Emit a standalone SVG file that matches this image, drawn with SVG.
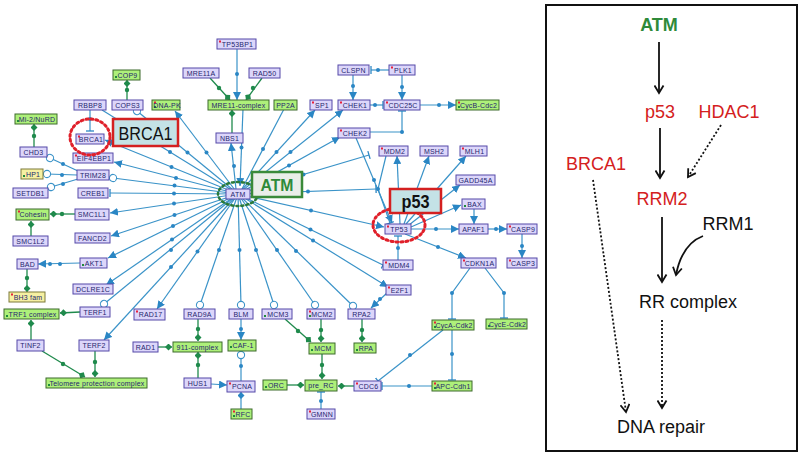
<svg xmlns="http://www.w3.org/2000/svg" width="800" height="456" viewBox="0 0 800 456">
<style>
.e{stroke:#3a93c8;stroke-width:1.2;fill:none}
.eg{stroke:#1f8a4c;stroke-width:1.3;fill:none}
.d{fill:#2a86c4}
.dg{fill:#1f8a4c}
.n rect.b{fill:#dcd6fa;stroke:#5548a8;stroke-width:1}
.g rect.b{fill:#aef07a;stroke:#3d6a2c;stroke-width:1}
.y rect.b{fill:#f6f0a2;stroke:#7d7a3a;stroke-width:1}
.n text,.g text,.y text{font-family:"Liberation Sans",Arial,sans-serif;font-size:7px;fill:#26266e;text-anchor:middle;letter-spacing:0.2px}
.rm{fill:#e8203a}
.gm{fill:#1f8a3c}
.big{font-family:"Liberation Sans",Arial,sans-serif;text-anchor:middle}
.rp{font-family:"Liberation Sans",Arial,sans-serif;font-size:18px;text-anchor:middle}
.ka{stroke:#111;stroke-width:1.8;fill:none;marker-end:url(#chev)}
.kd{stroke:#111;stroke-width:1.8;fill:none;stroke-dasharray:2 2;marker-end:url(#chev)}
</style>
<defs>
<marker id="arr" markerUnits="userSpaceOnUse" markerWidth="8" markerHeight="8" viewBox="0 0 10 10" refX="10" refY="5" orient="auto"><path d="M0,0 L10,5 L0,10 z" fill="#2a86c4"/></marker>
<marker id="tb" markerUnits="userSpaceOnUse" markerWidth="3" markerHeight="8" viewBox="0 0 3 10" refX="1.5" refY="5" orient="auto"><path d="M1.5,0 L1.5,10" stroke="#2a86c4" stroke-width="1.6"/></marker>
<marker id="oc" markerUnits="userSpaceOnUse" markerWidth="10" markerHeight="10" viewBox="0 0 10 10" refX="5" refY="5" orient="auto"><circle cx="5" cy="5" r="3.6" fill="#fff" stroke="#3a93c8" stroke-width="1.1"/></marker>
<marker id="dm" markerUnits="userSpaceOnUse" markerWidth="8" markerHeight="7" viewBox="0 0 10 10" refX="10" refY="5" orient="auto"><path d="M0,5 L5,0 L10,5 L5,10 z" fill="#1f8a4c"/></marker>
<marker id="bd" markerUnits="userSpaceOnUse" markerWidth="8" markerHeight="7" viewBox="0 0 10 10" refX="10" refY="5" orient="auto"><path d="M0,5 L5,0 L10,5 L5,10 z" fill="#2a86c4"/></marker>
<marker id="chev" markerUnits="userSpaceOnUse" markerWidth="11" markerHeight="11" viewBox="0 0 11 11" refX="9" refY="5.5" orient="auto"><path d="M1.5,1 L9,5.5 L1.5,10" fill="none" stroke="#111" stroke-width="1.8"/></marker>
</defs>
<rect width="800" height="456" fill="#fff"/>

<g id="connectors">
<path class="e" d="M238,194 L102,110"/>
<path class="e" d="M238,194 L137,111" marker-end="url(#oc)"/>
<path class="e" d="M238,194 L105,140" marker-end="url(#arr)"/>
<path class="e" d="M238,194 L175,111" marker-end="url(#arr)"/>
<path class="e" d="M236,189 L231,143" marker-end="url(#arr)"/>
<path class="e" d="M243,109 L240,186" marker-end="url(#arr)"/>
<path class="e" d="M284,109 L242,189"/>
<path class="e" d="M238,194 L315,110" marker-end="url(#arr)"/>
<path class="e" d="M238,194 L343,110" marker-end="url(#arr)"/>
<path class="e" d="M238,194 L340,137" marker-end="url(#arr)"/>
<path class="e" d="M238,194 L369,155" marker-end="url(#tb)"/>
<path class="e" d="M238,194 L376,189" marker-end="url(#tb)"/>
<path class="e" d="M238,194 L384,227" marker-end="url(#arr)"/>
<path class="e" d="M238,194 L383,265" marker-end="url(#tb)"/>
<path class="e" d="M238,194 L388,287" marker-end="url(#arr)"/>
<path class="e" d="M238,194 L353,306" marker-end="url(#oc)"/>
<path class="e" d="M238,194 L315,305" marker-end="url(#oc)"/>
<path class="e" d="M238,194 L274,305" marker-end="url(#oc)"/>
<path class="e" d="M238,194 L241,305" marker-end="url(#oc)"/>
<path class="e" d="M238,194 L200,305" marker-end="url(#oc)"/>
<path class="e" d="M238,194 L157,309" marker-end="url(#arr)"/>
<path class="e" d="M238,194 L104,340" marker-end="url(#arr)"/>
<path class="e" d="M238,194 L104,304" marker-end="url(#oc)"/>
<path class="e" d="M238,194 L106,285" marker-end="url(#arr)"/>
<path class="e" d="M238,194 L108,258" marker-end="url(#arr)"/>
<path class="e" d="M238,194 L111,236" marker-end="url(#arr)"/>
<path class="e" d="M238,194 L110,213" marker-end="url(#arr)"/>
<path class="e" d="M238,194 L110,193" marker-end="url(#tb)"/>
<path class="e" d="M238,194 L113,178" marker-end="url(#oc)"/>
<path class="e" d="M238,194 L114,162" marker-end="url(#arr)"/>
<path class="e" d="M90,110 L90,131" marker-end="url(#tb)"/>
<path class="e" d="M237,49 L237,100" marker-end="url(#arr)"/>
<path class="e" d="M353,75 L353,100" marker-end="url(#arr)"/>
<path class="e" d="M402,75 L402,100" marker-end="url(#arr)"/>
<path class="e" d="M389,70 L371,70" marker-end="url(#tb)"/>
<path class="e" d="M370,105 L383,105" marker-end="url(#tb)"/>
<path class="e" d="M420,105 L456,105" marker-end="url(#arr)"/>
<path class="e" d="M370,132 L402,132 L402,111" marker-end="url(#tb)"/>
<path class="e" d="M356,138 L392,223" marker-end="url(#arr)"/>
<path class="e" d="M386,156 L378,189 L390,223" marker-end="url(#tb)"/>
<path class="e" d="M400,224 L397,156" marker-end="url(#arr)"/>
<path class="e" d="M404,224 L429,156" marker-end="url(#arr)"/>
<path class="e" d="M406,224 L466,156" marker-end="url(#arr)"/>
<path class="e" d="M409,225 L460,185" marker-end="url(#arr)"/>
<path class="e" d="M411,227 L461,205" marker-end="url(#arr)"/>
<path class="e" d="M411,229 L459,229" marker-end="url(#arr)"/>
<path class="e" d="M405,234 L466,258" marker-end="url(#arr)"/>
<path class="e" d="M398,260 L398,236" marker-end="url(#tb)"/>
<path class="e" d="M474,209 L474,224" marker-end="url(#arr)"/>
<path class="e" d="M488,229 L507,229" marker-end="url(#arr)"/>
<path class="e" d="M522,234 L522,258" marker-end="url(#arr)"/>
<path class="e" d="M470,268 L452,293 L452,319" marker-end="url(#tb)"/>
<path class="e" d="M485,268 L504,293 L504,318" marker-end="url(#tb)"/>
<path class="e" d="M452,330 L452,380" marker-end="url(#tb)"/>
<path class="e" d="M443,330 L378,381" marker-end="url(#tb)"/>
<path class="e" d="M432,386 L382,386" marker-end="url(#tb)"/>
<path class="e" d="M388,292 L371,308" marker-end="url(#arr)"/>
<path class="e" d="M241,319 L241,340" marker-end="url(#arr)"/>
<path class="e" d="M241,381 L241,355" marker-end="url(#oc)"/>
<path class="e" d="M211,384 L227,385" marker-end="url(#arr)"/>
<path class="e" d="M241,409 L241,392" marker-end="url(#bd)"/>
<path class="e" d="M321,409 L321,392" marker-end="url(#tb)"/>
<path class="e" d="M80,263 L38,264" marker-end="url(#arr)"/>
<path class="e" d="M78,171 L50,158" marker-end="url(#oc)"/>
<path class="e" d="M77,175 L47,174" marker-end="url(#oc)"/>
<path class="e" d="M78,179 L51,187" marker-end="url(#oc)"/>
<path class="eg" d="M127,100 L127,80" marker-end="url(#dm)"/>
<path class="eg" d="M210,78 L230,100" marker-end="url(#dm)"/>
<path class="eg" d="M262,78 L246,100" marker-end="url(#dm)"/>
<path class="eg" d="M232,133 L232,110" marker-end="url(#dm)"/>
<path class="eg" d="M34,147 L34,124" marker-end="url(#dm)"/>
<path class="eg" d="M75,214 L50,214" marker-end="url(#dm)"/>
<path class="eg" d="M31,236 L31,221" marker-end="url(#dm)"/>
<path class="eg" d="M27,269 L27,292" marker-end="url(#dm)"/>
<path class="eg" d="M80,312 L60,313" marker-end="url(#dm)"/>
<path class="eg" d="M31,340 L31,320" marker-end="url(#dm)"/>
<path class="eg" d="M42,351 L85,377" marker-end="url(#dm)"/>
<path class="eg" d="M95,351 L95,377" marker-end="url(#dm)"/>
<path class="eg" d="M198,319 L198,341" marker-end="url(#dm)"/>
<path class="eg" d="M198,378 L198,352" marker-end="url(#dm)"/>
<path class="eg" d="M158,347 L172,347" marker-end="url(#dm)"/>
<path class="eg" d="M285,319 L311,342" marker-end="url(#dm)"/>
<path class="eg" d="M321,319 L321,342" marker-end="url(#dm)"/>
<path class="eg" d="M322,354 L322,379" marker-end="url(#dm)"/>
<path class="eg" d="M287,385 L304,385" marker-end="url(#dm)"/>
<path class="eg" d="M354,386 L338,386" marker-end="url(#dm)"/>
<path class="eg" d="M362,319 L362,342" marker-end="url(#dm)"/>
<g class="d">
<circle cx="170" cy="152" r="2"/><circle cx="187.5" cy="152.5" r="2"/><circle cx="171.5" cy="167" r="2"/><circle cx="206.5" cy="152.5" r="2"/><circle cx="234" cy="166" r="2"/><circle cx="241.5" cy="147.5" r="2"/><circle cx="263" cy="149" r="2"/><circle cx="276.5" cy="152" r="2"/><circle cx="290.5" cy="152" r="2"/><circle cx="289" cy="165.5" r="2"/><circle cx="303.5" cy="174.5" r="2"/><circle cx="308" cy="191.5" r="2"/><circle cx="311" cy="210.5" r="2"/><circle cx="310.5" cy="229.5" r="2"/><circle cx="313" cy="240.5" r="2"/><circle cx="296" cy="251" r="2"/><circle cx="277" cy="250" r="2"/><circle cx="256" cy="250" r="2"/><circle cx="239.5" cy="250" r="2"/><circle cx="219" cy="250" r="2"/><circle cx="197.5" cy="251.5" r="2"/><circle cx="171" cy="267" r="2"/><circle cx="171" cy="250" r="2"/><circle cx="172" cy="239.5" r="2"/><circle cx="173" cy="226" r="2"/><circle cx="174.5" cy="215" r="2"/><circle cx="174" cy="203.5" r="2"/><circle cx="174" cy="193.5" r="2"/><circle cx="174.5" cy="185.5" r="2"/><circle cx="176" cy="178" r="2"/>
<circle cx="90" cy="119" r="2"/><circle cx="237" cy="74" r="2"/><circle cx="353" cy="86" r="2"/><circle cx="402" cy="87" r="2"/><circle cx="378" cy="70" r="2"/><circle cx="375" cy="105" r="2"/><circle cx="439" cy="105" r="2"/><circle cx="402" cy="132" r="2"/><circle cx="374" cy="180" r="2"/><circle cx="378" cy="189" r="2"/><circle cx="436" cy="229" r="2"/><circle cx="438" cy="247" r="2"/><circle cx="398" cy="248" r="2"/><circle cx="496" cy="229" r="2"/><circle cx="522" cy="246" r="2"/><circle cx="452" cy="293" r="2"/><circle cx="504" cy="293" r="2"/><circle cx="452" cy="354" r="2"/><circle cx="410" cy="355" r="2"/><circle cx="409" cy="386" r="2"/><circle cx="380" cy="299" r="2"/><circle cx="241" cy="329" r="2"/><circle cx="241" cy="366" r="2"/><circle cx="321" cy="401" r="2"/><circle cx="50" cy="264" r="2"/><circle cx="60" cy="264" r="2"/><circle cx="63" cy="164" r="2"/><circle cx="62" cy="175" r="2"/><circle cx="63" cy="184" r="2"/>
</g>
<g class="dg">
<circle cx="127" cy="90" r="2.2"/><circle cx="219" cy="88" r="2.2"/><circle cx="253" cy="88" r="2.2"/><circle cx="34" cy="136" r="2.2"/><circle cx="62" cy="214" r="2.2"/><circle cx="27" cy="278" r="2.2"/><circle cx="63" cy="364" r="2.2"/><circle cx="95" cy="362" r="2.2"/><circle cx="198" cy="329" r="2.2"/><circle cx="198" cy="365" r="2.2"/><circle cx="298" cy="331" r="2.2"/><circle cx="321" cy="330" r="2.2"/><circle cx="322" cy="365" r="2.2"/><circle cx="362" cy="330" r="2.2"/>
</g>
</g>

<g id="n-COP9" class="g"><rect class="b" x="113" y="70" width="27" height="10"/><rect class="gm" x="115" y="76" width="2" height="2"/><text x="127.5" y="77.6">COP9</text></g>
<g id="n-RBBP8" class="n"><rect class="b" x="74" y="100" width="32" height="10"/><text x="90" y="107.6">RBBP8</text></g>
<g id="n-COPS3" class="n"><rect class="b" x="112" y="100" width="31" height="10"/><text x="127.5" y="107.6">COPS3</text></g>
<g id="n-DNA-PK" class="g"><rect class="b" x="152" y="100" width="28" height="10"/><rect class="rm" x="154" y="101.5" width="2" height="2"/><rect class="gm" x="154" y="106" width="2" height="2"/><text x="167" y="107.6">DNA-PK</text></g>
<g id="n-MRE11-complex" class="g"><rect class="b" x="208" y="100" width="61" height="10"/><text x="238.5" y="107.6">MRE11-complex</text></g>
<g id="n-PP2A" class="g"><rect class="b" x="274" y="100" width="23" height="10"/><text x="285.5" y="107.6">PP2A</text></g>
<g id="n-SP1" class="n"><rect class="b" x="310" y="100" width="22" height="10"/><rect class="rm" x="312" y="101.5" width="2" height="2"/><text x="322" y="107.6">SP1</text></g>
<g id="n-CHEK1" class="n"><rect class="b" x="338" y="100" width="32" height="10"/><rect class="rm" x="340" y="101.5" width="2" height="2"/><text x="355" y="107.6">CHEK1</text></g>
<g id="n-CDC25C" class="n"><rect class="b" x="384" y="100" width="36" height="10"/><rect class="rm" x="386" y="101.5" width="2" height="2"/><text x="403" y="107.6">CDC25C</text></g>
<g id="n-CycB-Cdc2" class="g"><rect class="b" x="456" y="100" width="43" height="10"/><rect class="rm" x="458" y="101.5" width="2" height="2"/><rect class="gm" x="458" y="106" width="2" height="2"/><text x="478.5" y="107.6">CycB-Cdc2</text></g>
<g id="n-CLSPN" class="n"><rect class="b" x="338" y="65" width="31" height="10"/><text x="353.5" y="72.6">CLSPN</text></g>
<g id="n-PLK1" class="n"><rect class="b" x="389" y="65" width="26" height="10"/><rect class="rm" x="391" y="66.5" width="2" height="2"/><text x="403" y="72.6">PLK1</text></g>
<g id="n-TP53BP1" class="n"><rect class="b" x="217" y="39" width="39" height="10"/><rect class="rm" x="219" y="40.5" width="2" height="2"/><text x="237.5" y="46.6">TP53BP1</text></g>
<g id="n-MRE11A" class="n"><rect class="b" x="183" y="68" width="36" height="10"/><text x="201" y="75.6">MRE11A</text></g>
<g id="n-RAD50" class="n"><rect class="b" x="249" y="68" width="31" height="10"/><text x="264.5" y="75.6">RAD50</text></g>
<g id="n-NBS1" class="n"><rect class="b" x="216" y="133" width="27" height="10"/><text x="229.5" y="140.6">NBS1</text></g>
<g id="n-CHEK2" class="n"><rect class="b" x="338" y="128" width="32" height="10"/><rect class="rm" x="340" y="129.5" width="2" height="2"/><text x="355" y="135.6">CHEK2</text></g>
<g id="n-Mi-2-NuRD" class="g"><rect class="b" x="15" y="114" width="42" height="10"/><rect class="gm" x="17" y="120" width="2" height="2"/><text x="37" y="121.6">Mi-2/NuRD</text></g>
<g id="n-BRCA1" class="n"><rect class="b" x="76" y="134" width="28" height="10"/><rect class="rm" x="78" y="135.5" width="2" height="2"/><text x="91" y="141.6">BRCA1</text></g>
<g id="n-CHD3" class="n"><rect class="b" x="20" y="147" width="27" height="10"/><text x="33.5" y="154.6">CHD3</text></g>
<g id="n-EIF4EBP1" class="n"><rect class="b" x="73" y="153" width="40" height="10"/><rect class="rm" x="75" y="154.5" width="2" height="2"/><text x="94" y="160.6">EIF4EBP1</text></g>
<g id="n-HP1" class="y"><rect class="b" x="21" y="169" width="22" height="10"/><rect class="gm" x="23" y="175" width="2" height="2"/><text x="33" y="176.6">HP1</text></g>
<g id="n-TRIM28" class="n"><rect class="b" x="77" y="170" width="32" height="10"/><text x="93" y="177.6">TRIM28</text></g>
<g id="n-SETDB1" class="n"><rect class="b" x="13" y="188" width="35" height="10"/><text x="30.5" y="195.6">SETDB1</text></g>
<g id="n-CREB1" class="n"><rect class="b" x="78" y="188" width="30" height="10"/><text x="93" y="195.6">CREB1</text></g>
<g id="n-Cohesin" class="g"><rect class="b" x="16" y="209" width="33" height="11"/><rect class="rm" x="18" y="210.5" width="2" height="2"/><text x="33" y="217.1">Cohesin</text></g>
<g id="n-SMC1L1" class="n"><rect class="b" x="75" y="209" width="34" height="11"/><text x="92" y="217.1">SMC1L1</text></g>
<g id="n-SMC1L2" class="n"><rect class="b" x="13" y="236" width="35" height="10"/><text x="30.5" y="243.6">SMC1L2</text></g>
<g id="n-FANCD2" class="n"><rect class="b" x="75" y="233" width="35" height="10"/><text x="92.5" y="240.6">FANCD2</text></g>
<g id="n-BAD" class="n"><rect class="b" x="17" y="259" width="21" height="10"/><text x="27.5" y="266.6">BAD</text></g>
<g id="n-AKT1" class="n"><rect class="b" x="80" y="258" width="27" height="10"/><rect class="gm" x="82" y="264" width="2" height="2"/><text x="94" y="265.6">AKT1</text></g>
<g id="n-DCLRE1C" class="n"><rect class="b" x="73" y="284" width="40" height="10"/><text x="93" y="291.6">DCLRE1C</text></g>
<g id="n-BH3fam" class="y"><rect class="b" x="9" y="292" width="36" height="10"/><rect class="rm" x="11" y="293.5" width="2" height="2"/><text x="28" y="299.6">BH3 fam</text></g>
<g id="n-TRF1complex" class="g"><rect class="b" x="4" y="309" width="55" height="10"/><rect class="gm" x="6" y="315" width="2" height="2"/><text x="32.5" y="316.6">TRF1 complex</text></g>
<g id="n-TERF1" class="n"><rect class="b" x="80" y="307" width="30" height="10"/><text x="95" y="314.6">TERF1</text></g>
<g id="n-RAD17" class="n"><rect class="b" x="134" y="309" width="31" height="11"/><rect class="rm" x="136" y="310.5" width="2" height="2"/><text x="150.5" y="317.1">RAD17</text></g>
<g id="n-TINF2" class="n"><rect class="b" x="17" y="340" width="27" height="11"/><text x="30.5" y="348.1">TINF2</text></g>
<g id="n-TERF2" class="n"><rect class="b" x="79" y="340" width="30" height="11"/><text x="94" y="348.1">TERF2</text></g>
<g id="n-RAD1" class="n"><rect class="b" x="133" y="342" width="25" height="10"/><text x="145.5" y="349.6">RAD1</text></g>
<g id="n-Telomere" class="g"><rect class="b" x="46" y="378" width="101" height="10"/><rect class="gm" x="48" y="384" width="2" height="2"/><text x="97" y="385.6">Telomere protection complex</text></g>
<g id="n-RAD9A" class="n"><rect class="b" x="184" y="309" width="31" height="10"/><text x="199.5" y="316.6">RAD9A</text></g>
<g id="n-BLM" class="n"><rect class="b" x="229" y="309" width="24" height="10"/><text x="241" y="316.6">BLM</text></g>
<g id="n-MCM3" class="n"><rect class="b" x="262" y="309" width="30" height="10"/><rect class="gm" x="264" y="315" width="2" height="2"/><text x="278" y="316.6">MCM3</text></g>
<g id="n-MCM2" class="n"><rect class="b" x="307" y="309" width="28" height="10"/><rect class="rm" x="309" y="310.5" width="2" height="2"/><rect class="gm" x="309" y="315" width="2" height="2"/><text x="322" y="316.6">MCM2</text></g>
<g id="n-RPA2" class="n"><rect class="b" x="348" y="309" width="27" height="10"/><text x="361.5" y="316.6">RPA2</text></g>
<g id="n-911complex" class="g"><rect class="b" x="173" y="342" width="49" height="10"/><text x="197.5" y="349.6">911-complex</text></g>
<g id="n-CAF-1" class="g"><rect class="b" x="228" y="340" width="28" height="11"/><rect class="gm" x="230" y="346" width="2" height="2"/><text x="243" y="348.1">CAF-1</text></g>
<g id="n-MCM" class="g"><rect class="b" x="309" y="343" width="26" height="11"/><rect class="gm" x="311" y="349" width="2" height="2"/><text x="323" y="351.1">MCM</text></g>
<g id="n-RPA" class="g"><rect class="b" x="354" y="343" width="22" height="10"/><rect class="gm" x="356" y="349" width="2" height="2"/><text x="366" y="350.6">RPA</text></g>
<g id="n-HUS1" class="n"><rect class="b" x="184" y="378" width="27" height="10"/><text x="197.5" y="385.6">HUS1</text></g>
<g id="n-PCNA" class="n"><rect class="b" x="227" y="381" width="28" height="11"/><rect class="rm" x="229" y="382.5" width="2" height="2"/><text x="242" y="389.1">PCNA</text></g>
<g id="n-ORC" class="g"><rect class="b" x="263" y="380" width="24" height="10"/><rect class="gm" x="265" y="386" width="2" height="2"/><text x="276" y="387.6">ORC</text></g>
<g id="n-pre_RC" class="g"><rect class="b" x="305" y="380" width="32" height="11"/><text x="321" y="388.1">pre_RC</text></g>
<g id="n-CDC6" class="n"><rect class="b" x="354" y="381" width="27" height="10"/><rect class="rm" x="356" y="382.5" width="2" height="2"/><text x="368.5" y="388.6">CDC6</text></g>
<g id="n-APC-Cdh1" class="g"><rect class="b" x="432" y="381" width="40" height="10"/><rect class="rm" x="434" y="382.5" width="2" height="2"/><rect class="gm" x="434" y="387" width="2" height="2"/><text x="453" y="388.6">APC-Cdh1</text></g>
<g id="n-RFC" class="g"><rect class="b" x="231" y="409" width="21" height="10"/><rect class="rm" x="233" y="410.5" width="2" height="2"/><rect class="gm" x="233" y="415" width="2" height="2"/><text x="243" y="416.6">RFC</text></g>
<g id="n-GMNN" class="n"><rect class="b" x="307" y="409" width="28" height="10"/><rect class="rm" x="309" y="410.5" width="2" height="2"/><text x="322" y="416.6">GMNN</text></g>
<g id="n-CycA-Cdk2" class="g"><rect class="b" x="432" y="320" width="42" height="10"/><rect class="rm" x="434" y="321.5" width="2" height="2"/><rect class="gm" x="434" y="326" width="2" height="2"/><text x="454" y="327.6">CycA-Cdk2</text></g>
<g id="n-CycE-Cdk2" class="g"><rect class="b" x="486" y="319" width="41" height="10"/><rect class="gm" x="488" y="325" width="2" height="2"/><text x="507.5" y="326.6">CycE-Cdk2</text></g>
<g id="n-MDM2" class="n"><rect class="b" x="379" y="146" width="29" height="10"/><rect class="rm" x="381" y="147.5" width="2" height="2"/><text x="394.5" y="153.6">MDM2</text></g>
<g id="n-MSH2" class="n"><rect class="b" x="420" y="146" width="28" height="10"/><text x="434" y="153.6">MSH2</text></g>
<g id="n-MLH1" class="n"><rect class="b" x="460" y="146" width="27" height="10"/><rect class="rm" x="462" y="147.5" width="2" height="2"/><text x="474.5" y="153.6">MLH1</text></g>
<g id="n-GADD45A" class="n"><rect class="b" x="456" y="175" width="39" height="10"/><text x="475.5" y="182.6">GADD45A</text></g>
<g id="n-BAX" class="n"><rect class="b" x="462" y="199" width="23" height="10"/><rect class="gm" x="464" y="205" width="2" height="2"/><text x="474.5" y="206.6">BAX</text></g>
<g id="n-TP53" class="n"><rect class="b" x="385" y="224" width="26" height="10"/><rect class="rm" x="387" y="225.5" width="2" height="2"/><text x="399" y="231.6">TP53</text></g>
<g id="n-APAF1" class="n"><rect class="b" x="459" y="224" width="29" height="10"/><text x="473.5" y="231.6">APAF1</text></g>
<g id="n-CASP9" class="n"><rect class="b" x="507" y="224" width="30" height="10"/><rect class="rm" x="509" y="225.5" width="2" height="2"/><text x="523" y="231.6">CASP9</text></g>
<g id="n-CASP3" class="n"><rect class="b" x="507" y="258" width="30" height="10"/><rect class="rm" x="509" y="259.5" width="2" height="2"/><text x="523" y="265.6">CASP3</text></g>
<g id="n-MDM4" class="n"><rect class="b" x="383" y="260" width="30" height="10"/><rect class="rm" x="385" y="261.5" width="2" height="2"/><text x="399" y="267.6">MDM4</text></g>
<g id="n-CDKN1A" class="n"><rect class="b" x="461" y="258" width="35" height="10"/><rect class="rm" x="463" y="259.5" width="2" height="2"/><text x="479.5" y="265.6">CDKN1A</text></g>
<g id="n-E2F1" class="n"><rect class="b" x="386" y="285" width="25" height="10"/><rect class="rm" x="388" y="286.5" width="2" height="2"/><text x="399.5" y="292.6">E2F1</text></g>
<g id="n-ATM" class="n"><rect class="b" x="226" y="189" width="24" height="10"/><text x="238" y="196.6">ATM</text></g>

<g id="hl-BRCA1">
<ellipse cx="90" cy="137" rx="20" ry="18" fill="none" stroke="#e0202a" stroke-width="3" stroke-dasharray="2 3" stroke-linecap="round"/>
<rect x="113" y="119" width="65" height="27" fill="#c4e2e6" stroke="#d42020" stroke-width="2.5"/>
<text class="big" x="145.5" y="140" font-size="18" fill="#111" textLength="54" lengthAdjust="spacingAndGlyphs">BRCA1</text>
</g>
<g id="hl-TP53">
<ellipse cx="399" cy="225" rx="26" ry="17" fill="none" stroke="#e0202a" stroke-width="3" stroke-dasharray="2 3" stroke-linecap="round"/>
<rect x="390" y="189" width="51" height="24" fill="#c4e2e6" stroke="#d42020" stroke-width="2.5"/>
<text class="big" x="415.5" y="208" font-size="18" font-weight="bold" fill="#111" textLength="28" lengthAdjust="spacingAndGlyphs">p53</text>
</g>
<g id="hl-ATM">
<ellipse cx="238" cy="194" rx="20" ry="12" fill="none" stroke="#2a7a3a" stroke-width="2.5" stroke-dasharray="2 3" stroke-linecap="round"/>
<rect x="252" y="172" width="50" height="25" fill="#eaeee9" stroke="#3a8a3a" stroke-width="2.5"/>
<text class="big" x="277" y="191" font-size="17" font-weight="bold" fill="#2e8a3a" textLength="33" lengthAdjust="spacingAndGlyphs">ATM</text>
</g>

<g id="panel">
<rect x="546" y="5" width="251" height="446" fill="#fff" stroke="#111" stroke-width="2"/>
<g id="p-ATM"><text class="rp" x="659" y="31" font-weight="bold" fill="#2e8a3a">ATM</text></g>
<g id="p-p53"><text class="rp" x="660" y="118" fill="#d42020">p53</text></g>
<g id="p-HDAC1"><text class="rp" x="729" y="118" fill="#d42020">HDAC1</text></g>
<g id="p-BRCA1"><text class="rp" x="596" y="170" fill="#d42020">BRCA1</text></g>
<g id="p-RRM2"><text class="rp" x="662" y="205" fill="#d42020">RRM2</text></g>
<g id="p-RRM1"><text class="rp" x="728" y="230" fill="#111">RRM1</text></g>
<g id="p-RR"><text class="rp" x="688" y="308" fill="#111">RR complex</text></g>
<g id="p-DNA"><text class="rp" x="661" y="433" fill="#111">DNA repair</text></g>
<g id="p-conn">
<path class="ka" d="M659,42 L659,93"/>
<path class="ka" d="M660,128 L660,178"/>
<path class="kd" d="M721,125 L688,177"/>
<path class="ka" d="M662,217 L662,282"/>
<path class="ka" d="M703,236 Q682,244 676,275"/>
<path class="kd" d="M662,320 L662,408"/>
<path class="kd" d="M593,180 L626,412"/>
</g>
</g>
</svg>
